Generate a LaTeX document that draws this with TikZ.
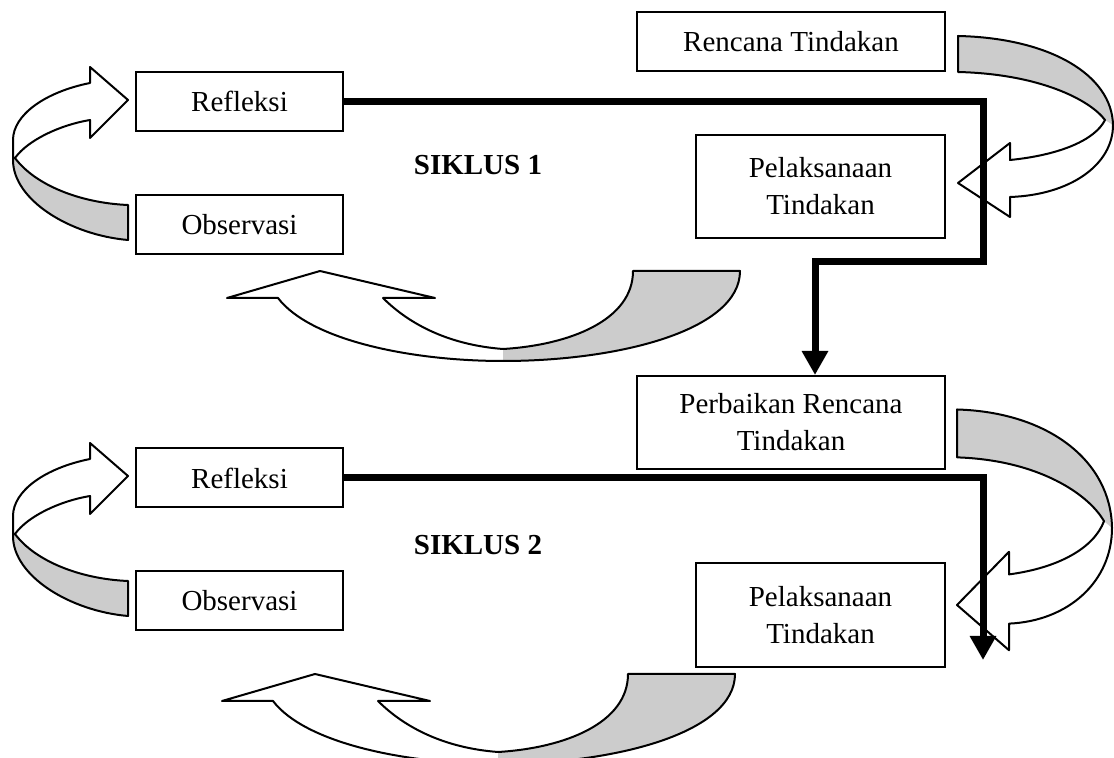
\documentclass[tikz,border=0pt]{standalone}
\usepackage{fontspec}
\setmainfont{Liberation Serif}
\usetikzlibrary{arrows.meta,positioning,calc}
\definecolor{ribbongray}{HTML}{CCCCCC}
\tikzset{
 cycle box/.style={draw,line width=.8pt,inner sep=2pt,align=center,
   minimum width=82.8pt,minimum height=23.6pt},
 cycle flow/.style={-{Triangle[width=10pt,length=9.6pt]},line width=2.8pt},
 cycle label/.style={font=\fontsize{11.6}{14.8}\selectfont\bfseries},
 ribbon line/.style={line width=.8pt,line join=round},
 pics/ribbon left/.style={code={
   \fill[ribbongray] (-113,58) .. controls (-93,85) and (-48,103) .. (0,105)
     -- (0,140) .. controls (-58,135) and (-115,100) .. (-115,60) -- cycle;
   \draw[ribbon line] (-38,20) .. controls (-68,25) and (-100,40) .. (-113,58)
     .. controls (-93,85) and (-48,103) .. (0,105) -- (0,140)
     .. controls (-58,135) and (-115,100) .. (-115,60) -- (-115,40)
     .. controls (-115,15) and (-83,-8) .. (-38,-17) -- (-38,-33)
     -- (0,0) -- (-38,38) -- cycle;
 }},
 pics/ribbon right/.style={code={
   \fill[ribbongray] (147,-63) .. controls (132,-83) and (82,-109) .. (0,-111)
     -- (0,-147) .. controls (92,-145) and (154,-108) .. (155,-58) -- cycle;
   \draw[ribbon line] (52,-23) .. controls (102,-28) and (137,-43) .. (147,-63)
     .. controls (132,-83) and (82,-109) .. (0,-111) -- (0,-147)
     .. controls (92,-145) and (154,-108) .. (155,-58)
     .. controls (155,-18) and (112,12) .. (52,14) -- (52,34)
     -- (0,0) -- (52,-40) -- cycle;
 }},
 pics/ribbon bottom/.style={code={
   \fill[ribbongray] (313,0) -- (420,0) .. controls (420,59) and (300,90) .. (183,90)
     -- (183,78) .. controls (250,74) and (313,49) .. (313,0) -- cycle;
   \draw[ribbon line] (63,27) .. controls (90,54) and (130,74) .. (183,78)
     .. controls (250,74) and (313,49) .. (313,0) -- (420,0)
     .. controls (420,59) and (300,90) .. (183,90)
     .. controls (90,90) and (-10,69) .. (-42,27) -- (-93,27)
     -- (0,0) -- (115,27) -- cycle;
 }}
}

\begin{document}
\begin{tikzpicture}[x=.4pt,y=-.4pt,font=\fontsize{11.6}{14.8}\selectfont]
\useasboundingbox (0,0) rectangle (1114,758);
% siklus 1
\pic at (128,100) {ribbon left};
\pic at (958,183) {ribbon right};
\pic at (320,271) {ribbon bottom};
\node[cycle box,minimum width=123.2pt] (plan) at (791,41.5) {Rencana Tindakan};
\node[cycle box] (refl1) at (239.5,101.5) {Refleksi};
\node[cycle box] (obs1) at (239.5,224.5) {Observasi};
\node[cycle box,minimum width=99.6pt,minimum height=41.2pt] (act1) at (820.5,186.5)
  {Pelaksanaan\\Tindakan};
\node[cycle label] (cyc1) at (478,165) {SIKLUS 1};
% siklus 2
\pic at (128,476) {ribbon left};
\pic[yscale=1.33] at (957,605) {ribbon right};
\pic at (315,674) {ribbon bottom};
\node[cycle box,minimum width=123.2pt,minimum height=37.2pt] (replan) at (791,422.5)
  {Perbaikan Rencana\\Tindakan};
\node[cycle box] (refl2) at (239.5,478) {Refleksi};
\node[cycle box] (obs2) at (239.5,601) {Observasi};
\node[cycle box,minimum width=99.6pt,minimum height=41.6pt] (act2) at (820.5,615)
  {Pelaksanaan\\Tindakan};
\node[cycle label] (cyc2) at (478,545) {SIKLUS 2};
% thick connectors
\coordinate (turn1) at (983,262);
\coordinate (drop1) at (815,262);
\draw[cycle flow] (refl1.east) -| (turn1) -- (drop1) -- (drop1 |- replan.north);
\coordinate (end2) at (983,660);
\draw[cycle flow] (refl2.east) -| (end2);
\end{tikzpicture}
\end{document}
